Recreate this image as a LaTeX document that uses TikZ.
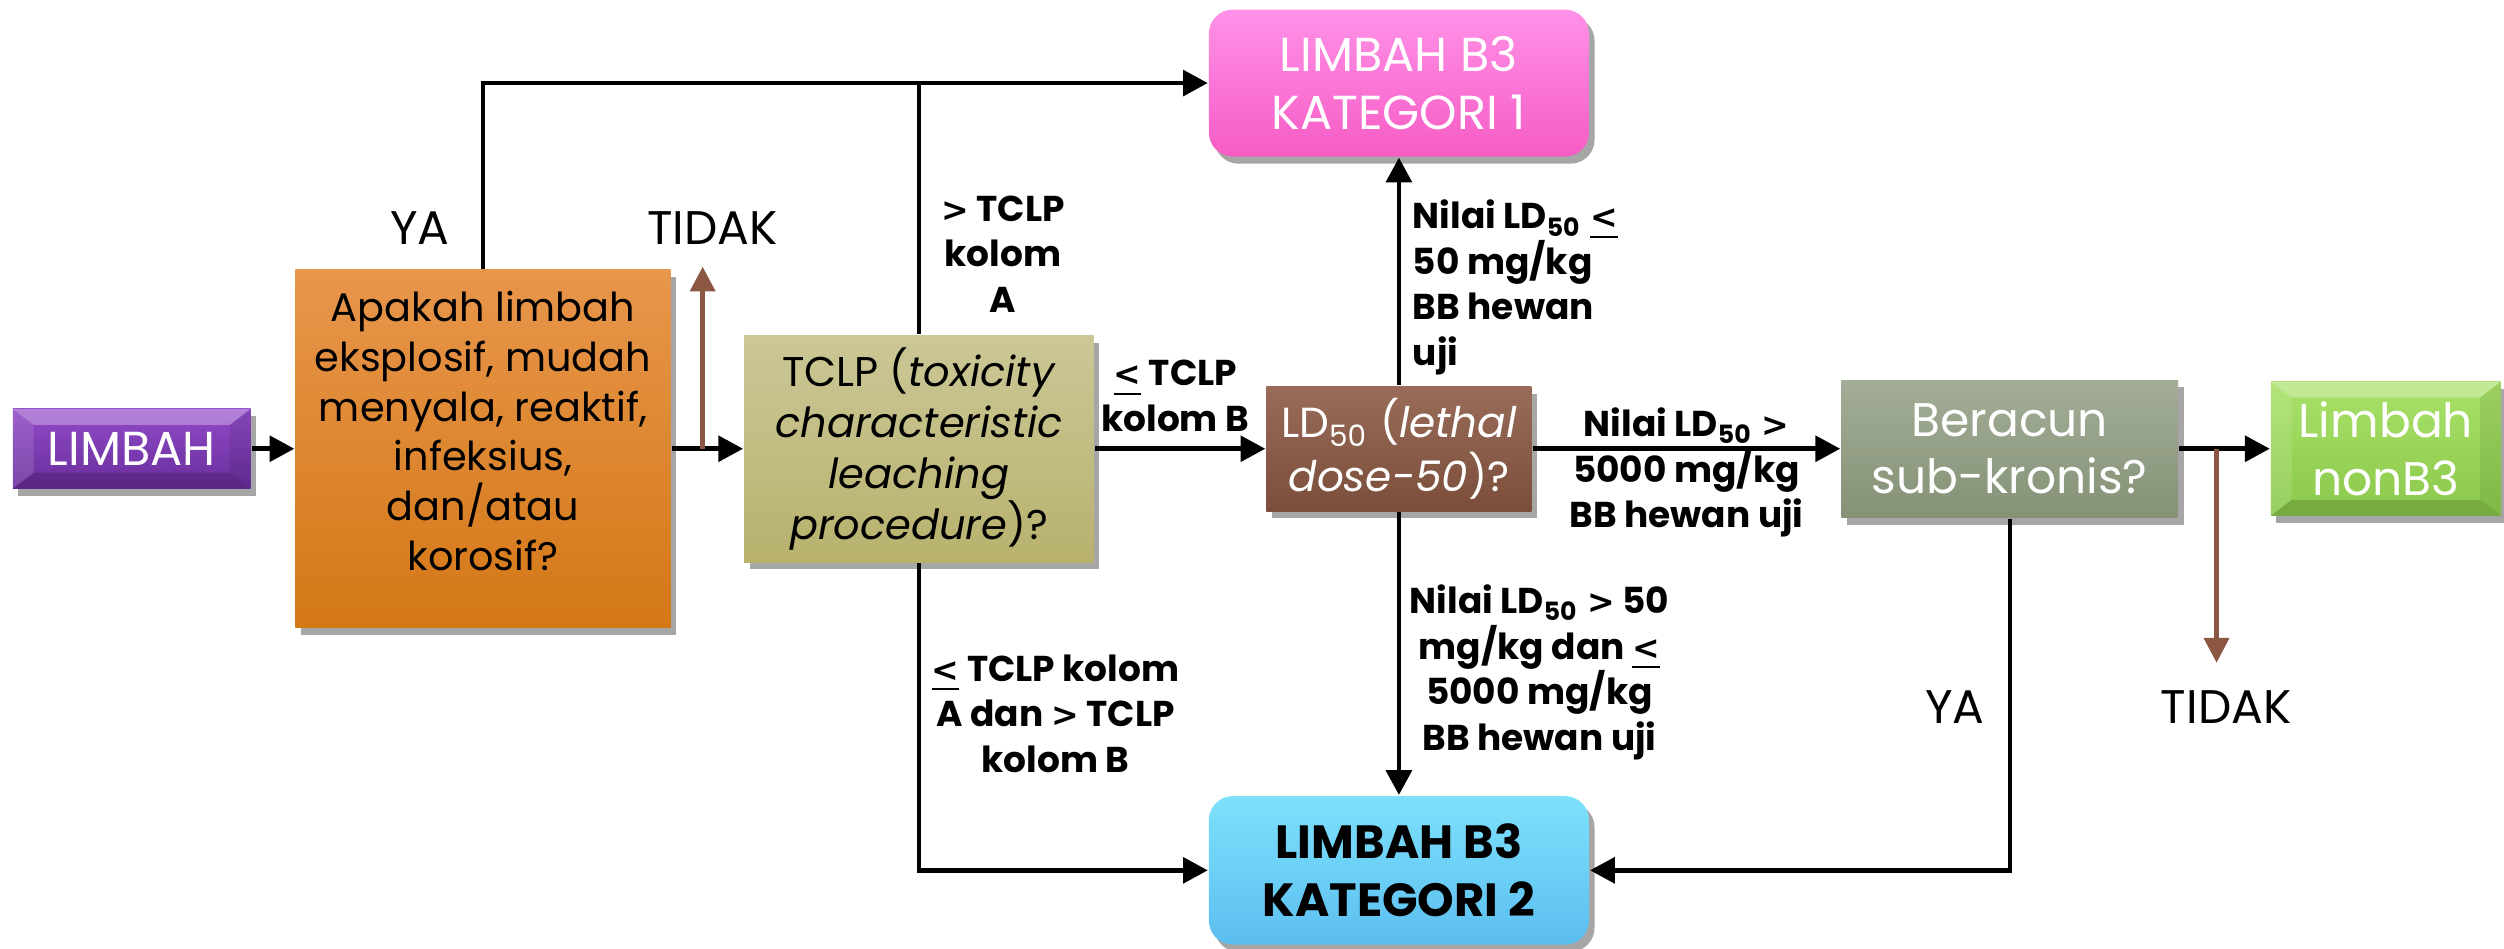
\documentclass[tikz,border=0pt]{standalone}
\usepackage{fontspec}
\setmainfont{Poppins}
\newfontfamily\symfont{DejaVu Sans}[Scale=0.92]
\newcommand{\mylt}{{\symfont<}}
\newcommand{\mygt}{{\symfont>}}
\newcommand{\myle}{\underline{\mylt}}
\usetikzlibrary{arrows.meta,shadows,calc}
\definecolor{purpT}{RGB}{145,75,200}
\definecolor{purpB}{RGB}{105,45,155}
\definecolor{orgT}{RGB}{232,150,76}
\definecolor{orgB}{RGB}{212,120,22}
\definecolor{tcT}{RGB}{203,199,150}
\definecolor{tcB}{RGB}{184,178,110}
\definecolor{ldT}{RGB}{152,108,88}
\definecolor{ldB}{RGB}{122,78,58}
\definecolor{subT}{RGB}{163,173,151}
\definecolor{subB}{RGB}{133,146,118}
\definecolor{grT}{RGB}{170,225,105}
\definecolor{grB}{RGB}{138,200,74}
\definecolor{pkT}{RGB}{255,145,232}
\definecolor{pkB}{RGB}{246,92,196}
\definecolor{blT}{RGB}{125,225,252}
\definecolor{blB}{RGB}{92,190,240}
\definecolor{brn}{RGB}{139,86,66}
\tikzset{
  boxbase/.style={inner sep=0pt, align=center,
    drop shadow={shadow xshift=0.35mm, shadow yshift=-0.45mm, opacity=0.35, fill=black}},
  bevel/.style={path picture={%
    \path (path picture bounding box.north west) coordinate (bnw)
          (path picture bounding box.north east) coordinate (bne)
          (path picture bounding box.south west) coordinate (bsw)
          (path picture bounding box.south east) coordinate (bse);
    \fill[white,opacity=.30] (bnw) -- (bne) -- ([shift={(-1.3mm,-1mm)}]bne) -- ([shift={(1.3mm,-1mm)}]bnw) -- cycle;
    \fill[white,opacity=.12] (bnw) -- ([shift={(1.3mm,-1mm)}]bnw) -- ([shift={(1.3mm,1mm)}]bsw) -- (bsw) -- cycle;
    \fill[black,opacity=.15] (bsw) -- ([shift={(1.3mm,1mm)}]bsw) -- ([shift={(-1.3mm,1mm)}]bse) -- (bse) -- cycle;
    \fill[black,opacity=.08] (bse) -- ([shift={(-1.3mm,1mm)}]bse) -- ([shift={(-1.3mm,-1mm)}]bne) -- (bne) -- cycle;
  }},
  arr/.style={line width=0.8pt, -{Triangle[length=1.55mm,width=1.6mm]}},
  ln/.style={line width=0.8pt},
  brarr/.style={line width=0.8pt, draw=brn, -{Triangle[length=1.55mm,width=1.55mm]}},
  lbl/.style={font=\fontsize{6.4}{8.1}\selectfont\bfseries, align=center, inner sep=0pt},
  yt/.style={font=\fontsize{8.4}{10}\selectfont, inner sep=0pt},
}
\begin{document}
\begin{tikzpicture}[x=0.1mm,y=-0.1mm]
\useasboundingbox (0,0) rectangle (1568,594);

% boxes
\node[boxbase, bevel, top color=purpT, bottom color=purpB, minimum width=14.9mm, minimum height=5.0mm,
      text=white, font=\fontsize{8.5}{10}\selectfont] (limbah) at (82.5,281) {LIMBAH};
\node[boxbase, top color=orgT, bottom color=orgB, minimum width=23.5mm, minimum height=22.4mm] (q1) at (302.5,281) {};
\node[inner sep=0pt, align=center, font=\fontsize{7.1}{8.85}\selectfont] (q1t) at (302.5,270)
  {Apakah limbah\\eksplosif, mudah\\menyala, reaktif,\\infeksius,\\dan/atau\\korosif?};
\node[boxbase, top color=tcT, bottom color=tcB, minimum width=21.9mm, minimum height=14.2mm,
      font=\fontsize{7.4}{9.1}\selectfont] (tclp) at (575.5,281)
  {TCLP (\textit{toxicity}\\\textit{characteristic}\\\textit{leaching}\\\textit{procedure})?};
\node[boxbase, top color=ldT, bottom color=ldB, minimum width=16.6mm, minimum height=7.8mm,
      text=white, font=\fontsize{7.5}{7.7}\selectfont] (ld) at (876,281)
  {LD\textsubscript{50} (\textit{lethal}\\\textit{dose-50})?};
\node[boxbase, top color=subT, bottom color=subB, minimum width=21.1mm, minimum height=8.6mm,
      text=white, font=\fontsize{8.4}{10.3}\selectfont] (sub) at (1258.5,281) {Beracun\\sub-kronis?};
\node[boxbase, bevel, top color=grT, bottom color=grB, minimum width=14.4mm, minimum height=8.4mm,
      text=white, font=\fontsize{8.4}{10.3}\selectfont] (non) at (1494,281) {Limbah\\nonB3};
\node[boxbase, rounded corners=1.5mm, top color=pkT, bottom color=pkB, minimum width=23.8mm, minimum height=9.2mm,
      text=white, font=\fontsize{8.5}{10.4}\selectfont] (k1) at (876,52) {LIMBAH B3\\KATEGORI 1};
\node[boxbase, rounded corners=1.5mm, top color=blT, bottom color=blB, minimum width=23.8mm, minimum height=9.3mm,
      font=\fontsize{8.3}{10.3}\selectfont\bfseries] (k2) at (876,545) {LIMBAH B3\\KATEGORI 2};

% connectors
\draw[arr] (limbah.east) -- (q1.west);
\draw[arr] (q1.east) -- (tclp.west);
\draw[arr] (q1.north) |- (k1.west);
\draw[ln] (tclp.north) -- (tclp.north |- k1.west);
\draw[arr] (tclp.south) |- (k2.west);
\draw[arr] (tclp.east) -- (ld.west);
\draw[arr] (ld.north) -- (k1.south);
\draw[arr] (ld.south) -- (k2.north);
\draw[arr] (ld.east) -- (sub.west);
\draw[arr] (sub.south) |- (k2.east);
\draw[arr] (sub.east) -- (non.west);
\coordinate (br1s) at (440,281);
\coordinate (br1e) at (440,167);
\draw[brarr] (br1s) -- (br1e);
\coordinate (br2s) at (1388,281);
\coordinate (br2e) at (1388,415);
\draw[brarr] (br2s) -- (br2e);

% labels
\node[lbl] (lA) at (628,159) {\mygt{} TCLP\\kolom\\A};
\node[lbl] (lB) at (736,248) {\myle{} TCLP\\kolom B};
\node[lbl] (lAB) at (661,447) {\myle{} TCLP kolom\\A dan \mygt{} TCLP\\kolom B};
\node[lbl, align=left, anchor=west] (l50) at (884,180) {Nilai LD\textsubscript{50} \myle\\50 mg/kg\\BB hewan\\uji};
\node[lbl] (lmid) at (964,421) {Nilai LD\textsubscript{50} \mygt{} 50\\mg/kg dan \myle\\5000 mg/kg\\BB hewan uji};
\node[lbl] (l5000) at (1056,296) {Nilai LD\textsubscript{50} \mygt\\5000 mg/kg\\BB hewan uji};
\node[yt] (ya1) at (263,143) {YA};
\node[yt] (td1) at (446,143) {TIDAK};
\node[yt] (ya2) at (1224,443) {YA};
\node[yt] (td2) at (1394,443) {TIDAK};
\end{tikzpicture}
\end{document}
